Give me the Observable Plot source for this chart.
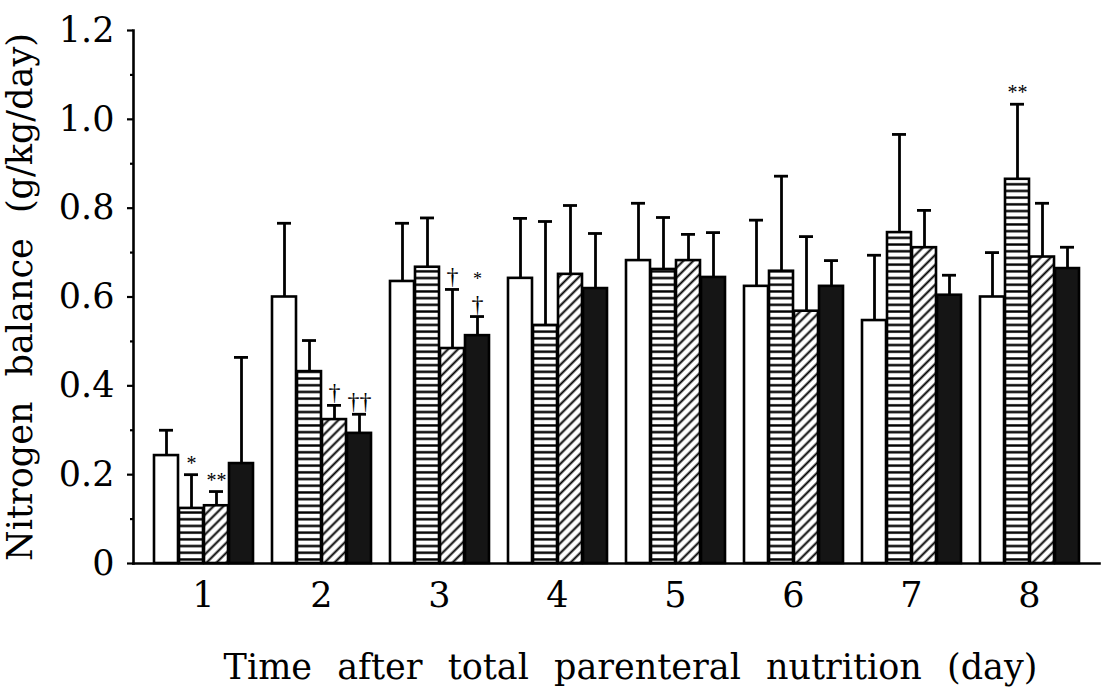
<!DOCTYPE html>
<html><head><meta charset="utf-8">
<script src="https://cdn.jsdelivr.net/npm/d3@7"></script>
<script src="https://cdn.jsdelivr.net/npm/@observablehq/plot@0.6"></script>
<style>
body{margin:0;background:#fff;}
svg{word-spacing:14px;}
</style></head>
<body><div id="chart"></div>
<script>
const days = [1, 2, 3, 4, 5, 6, 7, 8];
const groups = ["Group 1", "Group 2", "Group 3", "Group 4"];
const mean1 = [0.243, 0.600, 0.635, 0.642, 0.682, 0.624, 0.547, 0.600];
const mean2 = [0.124, 0.432, 0.667, 0.536, 0.662, 0.658, 0.745, 0.865];
const mean3 = [0.130, 0.324, 0.484, 0.651, 0.682, 0.568, 0.711, 0.690];
const mean4 = [0.225, 0.293, 0.513, 0.619, 0.644, 0.624, 0.604, 0.664];
const sd1 = [0.057, 0.166, 0.131, 0.135, 0.129, 0.149, 0.147, 0.100];
const sd2 = [0.076, 0.070, 0.111, 0.234, 0.117, 0.214, 0.221, 0.169];
const sd3 = [0.032, 0.032, 0.133, 0.155, 0.059, 0.168, 0.084, 0.121];
const sd4 = [0.239, 0.043, 0.043, 0.124, 0.101, 0.058, 0.045, 0.048];
const yTicks = [0, 0.2, 0.4, 0.6, 0.8, 1.0, 1.2];
const yMinorTicks = [0.1, 0.3, 0.5, 0.7, 0.9, 1.1];
// significance marks just above the error bars
const noteDays = [1, 1, 2, 2, 3, 3, 8];
const noteGroups = ["Group 2", "Group 3", "Group 3", "Group 4", "Group 3", "Group 4", "Group 2"];
const noteTexts = ["*", "**", "†", "††", "†", "†", "**"];
// second-row marks stacked above the first
const upperDays = [3];
const upperGroups = ["Group 4"];
const upperTexts = ["*"];
const xTitle = "Time after total parenteral nutrition (day)";
const yTitle = "Nitrogen balance (g/kg/day)";

const means = [mean1, mean2, mean3, mean4];
const sds = [sd1, sd2, sd3, sd4];
const rows = days.flatMap((d, i) => groups.map((g, j) => ({day: d, group: g, mean: means[j][i], sd: sds[j][i]})));
const capOf = (d, g) => { const r = rows.find(r => r.day === d && r.group === g); return r.mean + r.sd; };
const notes = noteDays.map((d, k) => ({day: d, group: noteGroups[k], y: capOf(d, noteGroups[k]), text: noteTexts[k]}));
const upperNotes = upperDays.map((d, k) => ({day: d, group: upperGroups[k], y: capOf(d, upperGroups[k]), text: upperTexts[k]}));

const plot = Plot.plot({
  width: 1103,
  height: 687,
  marginLeft: 142,
  marginRight: 14,
  marginTop: 30,
  marginBottom: 124,
  style: {fontFamily: "DejaVu Serif", background: "white", color: "black", overflow: "visible"},
  fx: {domain: days, paddingInner: 0, paddingOuter: 0},
  x: {domain: groups, axis: null, paddingInner: 0.06, paddingOuter: 0.35},
  y: {domain: [0, 1.2]},
  color: {domain: groups, range: ["white", "url(#hstripe)", "url(#dhatch)", "#151515"]},
  marks: [
    Plot.barY(rows, {fx: "day", x: "group", y: "mean", fill: "group", stroke: "black", strokeWidth: 2.6}),
    Plot.ruleX(rows, {fx: "day", x: "group", y1: "mean", y2: d => d.mean + d.sd, stroke: "black", strokeWidth: 2.8}),
    Plot.tickY(rows, {fx: "day", x: "group", y: d => d.mean + d.sd, stroke: "black", strokeWidth: 2.8, insetLeft: 5, insetRight: 5}),
    Plot.text(notes, {fx: "day", x: "group", y: "y", text: "text", lineAnchor: "bottom", dy: -5,
      fontSize: d => d.text.includes("†") ? 24 : 20, fontFamily: "Liberation Serif"}),
    Plot.text(upperNotes, {fx: "day", x: "group", y: "y", text: "text", lineAnchor: "bottom", dy: -32, fontSize: 18, fontFamily: "Liberation Serif"}),
    Plot.frame({anchor: "left", facet: "super", strokeWidth: 2.6, dx: -11}),
    Plot.frame({anchor: "bottom", facet: "super", strokeWidth: 2.6, insetLeft: -11, insetRight: -11}),
    Plot.axisY({ticks: yTicks, tickFormat: d => d === 0 ? "0" : d.toFixed(1), tickSize: 6, tickPadding: 13, strokeWidth: 2.2, fontSize: 35, dx: -11,
      label: yTitle, labelAnchor: "center", labelArrow: "none", labelOffset: 137}),
    Plot.axisY({ticks: yMinorTicks, tickFormat: () => "", tickSize: 3, strokeWidth: 2.2, dx: -11, label: null}),
    Plot.axisFx({anchor: "bottom", tickSize: 0, tickPadding: 19, fontSize: 35, label: null}),
    Plot.text([xTitle], {facet: "super", frameAnchor: "bottom", text: d => d, lineAnchor: "bottom", dy: 115, dx: 14, fontSize: 35})
  ]
});

d3.select(plot).insert("defs", ":first-child").html(`
  <pattern id="hstripe" patternUnits="userSpaceOnUse" width="10" height="6.7">
    <rect width="10" height="6.7" fill="white"/>
    <line x1="0" x2="10" y1="3.35" y2="3.35" stroke="black" stroke-width="2.4"/>
  </pattern>
  <pattern id="dhatch" patternUnits="userSpaceOnUse" width="7" height="7" patternTransform="rotate(45)">
    <rect width="7" height="7" fill="white"/>
    <line x1="3.5" x2="3.5" y1="0" y2="7" stroke="black" stroke-width="2"/>
  </pattern>`);

document.getElementById("chart").append(plot);
</script>
</body></html>
